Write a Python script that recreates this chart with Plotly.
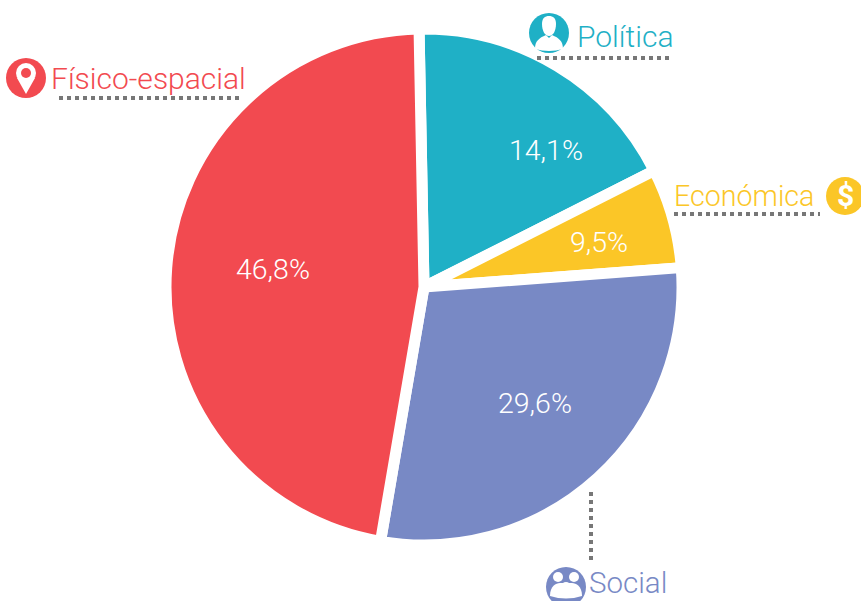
import plotly.graph_objects as go

categories = ["Política", "Económica", "Social", "Físico-espacial"]
arc_shares = [17.86, 6.25, 28.89, 47.0]
percent_labels = ["14,1%", "9,5%", "29,6%", "46,8%"]
colors = ["#1fb0c6", "#fbc627", "#7889c5", "#f24a50"]
GREY = "#777777"

fig = go.Figure(go.Pie(
    labels=categories, values=arc_shares, sort=False, direction="clockwise", rotation=-1.1,
    marker=dict(colors=colors, line=dict(width=11, color="white")),
    textinfo="none", hoverinfo="label", showlegend=False,
    domain=dict(x=[(424-258)/861, (424+258)/861], y=[1-(287+258)/601, 1-(287-258)/601]),
))

FONT = "Roboto Light, Roboto, sans-serif"
anns = []
def ann(x, y, text, color, size, anchor="center", family=FONT):
    anns.append(dict(x=x/861, y=1-y/601, xref="paper", yref="paper", text=text, showarrow=False,
                     xanchor=anchor, yanchor="middle", font=dict(family=family, size=size, color=color)))
for (x, y), t in zip([(546,150),(599,243),(535,403),(273,269)], percent_labels):
    ann(x, y, t, "white", 28.5)
ann(575, 37, categories[0], colors[0], 30, "left")
ann(816, 196, categories[1], colors[1], 28.6, "right")
ann(587, 583, categories[2], colors[2], 29.5, "left")
ann(49, 78, categories[3], colors[3], 30, "left")
ann(845, 196, "<b>$</b>", "white", 30, "center", "Roboto, sans-serif")

shapes = []
def P(x, y):
    return x/861, 1-y/601
def line(x0, y0, x1, y1):
    a, b = P(x0, y0); c, d = P(x1, y1)
    shapes.append(dict(type="line", xref="paper", yref="paper", x0=a, y0=b, x1=c, y1=d,
                       line=dict(color=GREY, width=4, dash="4px,4px")))
def circ(cx, cy, r, col):
    a, b = P(cx-r, cy+r); c, d = P(cx+r, cy-r)
    shapes.append(dict(type="circle", xref="paper", yref="paper", x0=a, y0=b, x1=c, y1=d,
                       fillcolor=col, line=dict(width=0)))
def path(d, col):
    shapes.append(dict(type="path", xref="x", yref="y", path=d, fillcolor=col, line=dict(width=0)))

line(537, 58, 669, 58)
line(674, 214, 820, 214)
line(591, 492, 591, 560)
line(59, 98, 243, 98)

circ(549, 33, 20, colors[0])
circ(845, 196, 19, colors[1])
circ(566, 587, 20, colors[2])
circ(26, 78, 20, colors[3])
# icon glyphs
path("M 542 24 C 542 18 545 16 549 16 C 553 16 556 18 556 24 C 556 31 553 36 549 36 C 545 36 542 31 542 24 Z", "white")
path("M 535 49 C 535 41 539 38 546 35 L 549 38 L 552 35 C 559 38 563 41 563 49 Q 549 53 535 49 Z", "white")
circ(26, 73, 10, "white")
path("M 17 78 L 26 94 L 35 78 Z", "white")
circ(26, 73, 5, colors[3])
circ(558, 577, 5, "white"); circ(574, 577, 5, "white"); circ(566, 586, 4, "white")
path("M 550 596 C 550 586 556 583 560 583 L 572 583 C 576 583 582 586 582 596 Q 566 601 550 596 Z", "white")

fig.update_layout(width=861, height=601, margin=dict(l=0, r=0, t=0, b=0),
                  paper_bgcolor="white", plot_bgcolor="white",
                  annotations=anns, shapes=shapes,
                  xaxis=dict(range=[0, 861], visible=False, fixedrange=True),
                  yaxis=dict(range=[601, 0], visible=False, fixedrange=True))
fig.write_html("out.html", post_script="document.body.style.margin='0';", config=dict(displayModeBar=False))
